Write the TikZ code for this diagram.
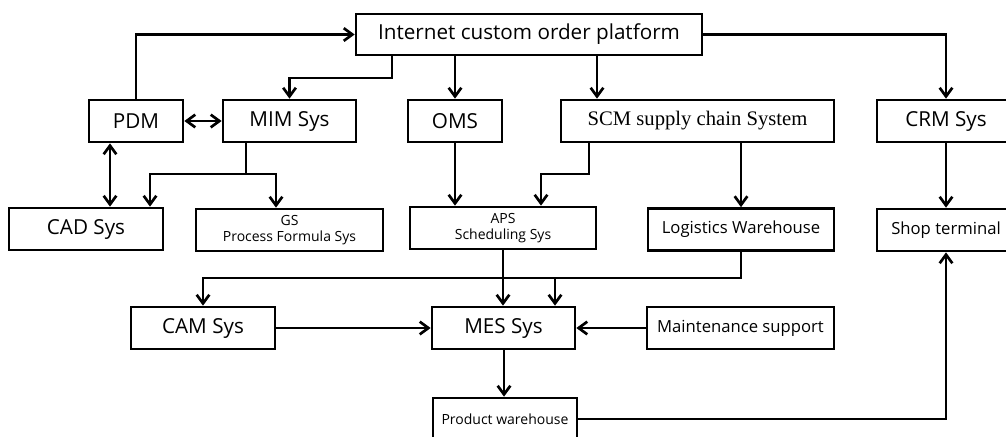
\documentclass[tikz,border=0pt]{standalone}
\usepackage{fontspec}
\setmainfont{Open Sans}
\newfontfamily\serifscm{Liberation Serif}
\usetikzlibrary{arrows.meta}
\begin{document}
\begin{tikzpicture}[x=0.75pt,y=-0.75pt,
  box/.style={draw,line width=2pt,inner sep=0pt,minimum height=42*0.75pt,align=center},
  big/.style={font=\fontsize{15.5}{18}\selectfont},
  mid/.style={font=\fontsize{12.5}{15}\selectfont},
  small/.style={font=\fontsize{10.5}{12}\selectfont},
  arr/.style={line width=2pt,-{Straight Barb[length=6.5pt,width=9.5pt]}},
  darr/.style={line width=2pt,{Straight Barb[length=6.5pt,width=9.5pt]}-{Straight Barb[length=6.5pt,width=9.5pt]}}]
\useasboundingbox (0,0) rectangle (1006,436);
\clip (0,0) rectangle (1006,436);
\fill[white] (0,0) rectangle (1006,436);
% top row
\node[box,big,minimum width=346*0.75pt,minimum height=41*0.75pt] (inet) at (529,34.5) {Internet custom order platform};
\node[box,big,minimum width=94*0.75pt] (pdm) at (136,121) {PDM};
\node[box,big,minimum width=133*0.75pt] (mim) at (289.5,121) {MIM Sys};
\node[box,big,minimum width=94*0.75pt] (oms) at (455,121) {OMS};
\node[box,font=\serifscm\fontsize{15.5}{18}\selectfont,minimum width=273*0.75pt] (scm) at (697.5,121) {SCM supply chain System};
\node[box,big,minimum width=138*0.75pt] (crm) at (946,121) {CRM Sys};
% second row
\node[box,big,minimum width=154*0.75pt] (cad) at (86,229) {CAD Sys};
\node[box,small,minimum width=187*0.75pt] (gs) at (289.5,230) {GS\\Process Formula Sys};
\node[box,small,minimum width=186*0.75pt] (aps) at (503,228) {APS\\Scheduling Sys};
\node[box,mid,minimum width=186*0.75pt] (log) at (741,229.5) {Logistics Warehouse};
\node[box,mid,minimum width=138*0.75pt] (shop) at (946,230) {Shop terminal};
% third row
\node[box,big,minimum width=144*0.75pt] (cam) at (203,328) {CAM Sys};
\node[box,big,minimum width=143*0.75pt] (mes) at (503.5,328) {MES Sys};
\node[box,mid,minimum width=187*0.75pt] (mnt) at (740.5,328) {Maintenance support};
% bottom
\node[box,small,minimum width=144*0.75pt] (prod) at (505,419) {Product warehouse};
% connectors
\draw[arr] (pdm.north) |- (inet.west);
\draw[arr] (inet.south -| 392,0) -- (392,78) -| (mim.north);
\draw[arr] (inet.south -| oms.north) -- (oms.north);
\draw[arr] (inet.south -| 597,0) -- (scm.north -| 597,0);
\draw[arr] (inet.east) -| (crm.north);
\draw[darr] (pdm.east) -- (mim.west);
\draw[darr] (pdm.south -| 110,0) -- (cad.north -| 110,0);
\draw[arr] (mim.south -| 246,0) -- (246,174) -| (cad.north -| 150,0);
\draw[arr] (246,174) -| (gs.north -| 276,0);
\draw[arr] (oms.south) -- (aps.north -| oms.south);
\draw[arr] (scm.south -| 589,0) -- (589,174) -| (aps.north -| 541,0);
\draw[arr] (scm.south -| log.north) -- (log.north);
\draw[arr] (crm.south) -- (shop.north);
\draw[arr] (aps.south) -- (mes.north -| aps.south);
\draw[arr] (log.south) -- (741,278) -| (mes.north -| 555,0);
\draw[arr] (555,278) -| (cam.north);
\draw[arr] (cam.east) -- (mes.west);
\draw[arr] (mnt.west) -- (mes.east);
\draw[arr] (mes.south -| 504,0) -- (prod.north -| 504,0);
\draw[arr] (prod.east) -| (shop.south);
\end{tikzpicture}
\end{document}
